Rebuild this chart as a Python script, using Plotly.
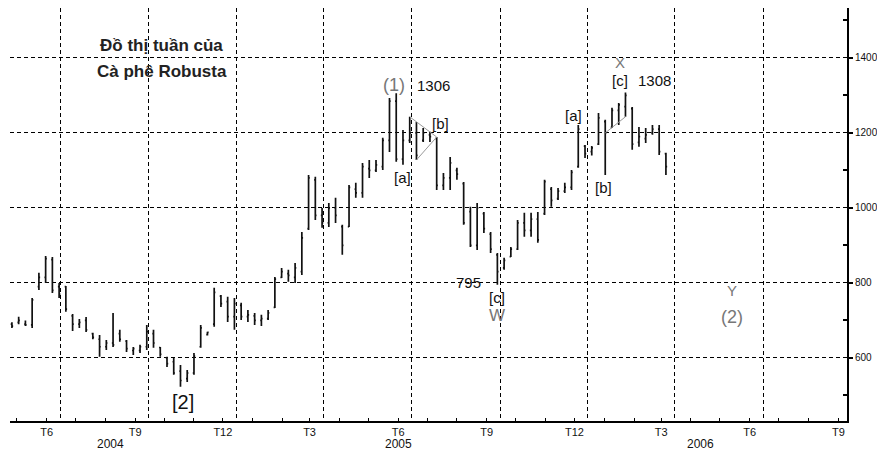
import pandas as pd
import plotly.graph_objects as go

# ---- data (weekly OHLC) ----
start_week = "2004-04-26"
opens = [690, 695, 690, 688, 790, 815, 862, 790, 790, 712, 690, 700, 665, 650, 630, 640, 665, 645, 620, 620,
         630, 665, 628, 600, 590, 565, 545, 560, 630, 662, 690, 765, 750, 710, 740, 710, 712, 700, 705, 735,
         815, 825, 815, 830, 945, 1075, 980, 960, 1000, 950, 950, 1050, 1040, 1105, 1100, 1110, 1180, 1285, 1130, 1180,
         1200, 1180, 1195, 1185, 1060, 1080, 1100, 1065, 990, 900, 985, 930, 875, 840, 870, 890, 960, 940, 970, 985,
         1050, 1025, 1045, 1055, 1110, 1165, 1150, 1170, 1230, 1215, 1260, 1270, 1265, 1175, 1185, 1200, 1210, 1145]
highs = [695, 710, 700, 760, 827, 872, 869, 800, 792, 717, 704, 709, 667, 661, 648, 720, 675, 648, 629, 635,
         688, 675, 629, 603, 600, 581, 568, 613, 688, 670, 787, 768, 763, 760, 747, 728, 720, 715, 728, 816,
         840, 835, 853, 936, 1088, 1083, 1000, 1013, 1027, 955, 1061, 1067, 1120, 1128, 1128, 1187, 1293, 1306, 1208, 1243,
         1229, 1213, 1203, 1189, 1093, 1136, 1107, 1069, 1003, 1013, 989, 936, 880, 867, 896, 968, 987, 987, 989, 1075,
         1056, 1053, 1067, 1101, 1221, 1168, 1165, 1253, 1235, 1267, 1280, 1308, 1269, 1216, 1213, 1221, 1221, 1147]
lows = [680, 690, 685, 680, 781, 800, 773, 760, 723, 672, 680, 669, 650, 603, 621, 629, 643, 616, 608, 613,
        621, 627, 603, 576, 555, 523, 536, 555, 627, 660, 683, 736, 696, 675, 701, 696, 688, 685, 701, 733,
        813, 803, 800, 821, 941, 968, 947, 949, 960, 875, 949, 1027, 1027, 1080, 1096, 1101, 1149, 1123, 1115, 1173,
        1128, 1176, 1176, 1048, 1048, 1048, 1075, 955, 896, 888, 933, 880, 795, 835, 869, 888, 923, 923, 907, 981,
        1003, 1021, 1040, 1048, 1107, 1133, 1140, 1168, 1088, 1213, 1221, 1243, 1155, 1163, 1173, 1195, 1141, 1088]
closes = [685, 700, 688, 755, 815, 865, 780, 770, 730, 690, 695, 675, 655, 630, 640, 635, 650, 625, 625, 630,
          670, 640, 610, 585, 560, 540, 560, 605, 680, 668, 775, 745, 710, 745, 710, 715, 700, 705, 720, 810,
          830, 820, 840, 920, 1080, 980, 960, 1000, 980, 900, 1055, 1040, 1110, 1100, 1115, 1180, 1285, 1130, 1180, 1200,
          1140, 1200, 1190, 1060, 1080, 1120, 1090, 960, 900, 1000, 945, 890, 830, 860, 890, 960, 940, 970, 915, 1070,
          1020, 1045, 1055, 1095, 1210, 1145, 1160, 1240, 1200, 1260, 1275, 1300, 1170, 1190, 1195, 1210, 1150, 1110]

month_ticks = pd.date_range("2004-05-01", "2006-09-01", freq="MS")
month_names = {6: "T6", 9: "T9", 12: "T12", 3: "T3"}
grid_months = ["2004-06-15", "2004-09-15", "2004-12-15", "2005-03-15", "2005-06-15",
               "2005-09-15", "2005-12-15", "2006-03-15", "2006-06-15"]
year_labels = ["2004", "2005", "2006"]
y_ticks = [600, 800, 1000, 1200, 1400]
y_minor = [500, 700, 900, 1100, 1300, 1500]

dates = pd.date_range(start_week, periods=len(opens), freq="7D")
tick_text = [month_names.get(d.month, "") for d in month_ticks]

INK = "#111111"
fig = go.Figure()
fig.add_trace(go.Ohlc(
    x=dates, open=opens, high=highs, low=lows, close=closes,
    increasing=dict(line=dict(color=INK, width=1.7)),
    decreasing=dict(line=dict(color=INK, width=1.7)),
    tickwidth=0.18, showlegend=False, hoverinfo="skip"))

# wave helper lines, anchored on bars of the data
def wave_line(i, yi, j, yj):
    fig.add_trace(go.Scatter(x=[dates[i], dates[j]], y=[yi, yj], mode="lines",
                             line=dict(color="#999999", width=1), showlegend=False, hoverinfo="skip"))

wave_line(59, highs[59], 63, highs[63])
wave_line(60, lows[60], 63, highs[63])
wave_line(88, closes[88], 91, lows[91])

FONT = "Arial, Liberation Sans, sans-serif"
def note(text, px, py, size=15, color="#111111", bold=False):
    fig.add_annotation(text=f"<b>{text}</b>" if bold else text,
                       x=(px - 10) / 837, y=(421 - py) / 413, xref="paper", yref="paper",
                       showarrow=False, xanchor="center", yanchor="middle",
                       font=dict(family=FONT, size=size, color=color))

note("Đồ thị tuần của", 161, 45, size=17, color="#222222", bold=True)
note("Cà phê Robusta", 162, 72, size=17, color="#222222", bold=True)
note("(1)", 394, 85, size=18, color="#777777")
note("1306", 433, 86, size=15)
note("[a]", 402, 177, size=15)
note("[b]", 440, 123, size=15)
note("[a]", 573, 115, size=15)
note("[b]", 603, 187, size=15)
note("X", 620, 62, size=15, color="#777777")
note("[c]", 620, 80, size=15)
note("1308", 654, 80, size=15)
note("795", 468, 282, size=15)
note("[c]", 497, 297, size=15)
note("W", 497, 315, size=17, color="#777777")
note("[2]", 183, 402, size=20)
note("Y", 732, 290, size=15, color="#777777")
note("(2)", 732, 317, size=18, color="#777777")

for label, px in zip(year_labels, [110, 398, 700]):
    note(label, px, 444, size=12, color="#111111")

fig.update_layout(
    width=877, height=452,
    margin=dict(l=10, r=30, t=8, b=31, autoexpand=False),
    paper_bgcolor="white", plot_bgcolor="white",
    font=dict(family=FONT, color="#111111"),
    showlegend=False,
    xaxis=dict(
        type="date", range=["2004-04-24", "2006-09-10"], automargin=False,
        rangeslider=dict(visible=False),
        tickmode="array", tickvals=month_ticks, ticktext=tick_text,
        ticks="inside", ticklen=3, tickcolor="black", tickwidth=1,
        tickfont=dict(size=11, family=FONT),
        showgrid=False, showline=True, linecolor="black", linewidth=2, zeroline=False,
        minor=dict(tickmode="array", tickvals=grid_months, showgrid=True,
                   gridcolor="black", gridwidth=1, griddash="4px,3px", ticks=""),
    ),
    yaxis=dict(
        side="right", range=[432, 1533], automargin=False,
        tickmode="array", tickvals=y_ticks,
        ticks="outside", ticklen=4, tickcolor="black", tickwidth=1.5,
        tickfont=dict(size=10, family=FONT),
        showline=True, linecolor="black", linewidth=2, zeroline=False,
        showgrid=True, gridcolor="black", gridwidth=1, griddash="4px,3px",
        minor=dict(tickmode="array", tickvals=y_minor, ticks="inside", ticklen=4,
                   tickcolor="black", showgrid=False),
    ),
)

fig.write_html("out.html", config={"displayModeBar": False},
               post_script="document.body.style.margin='0';document.body.style.overflow='hidden';")
